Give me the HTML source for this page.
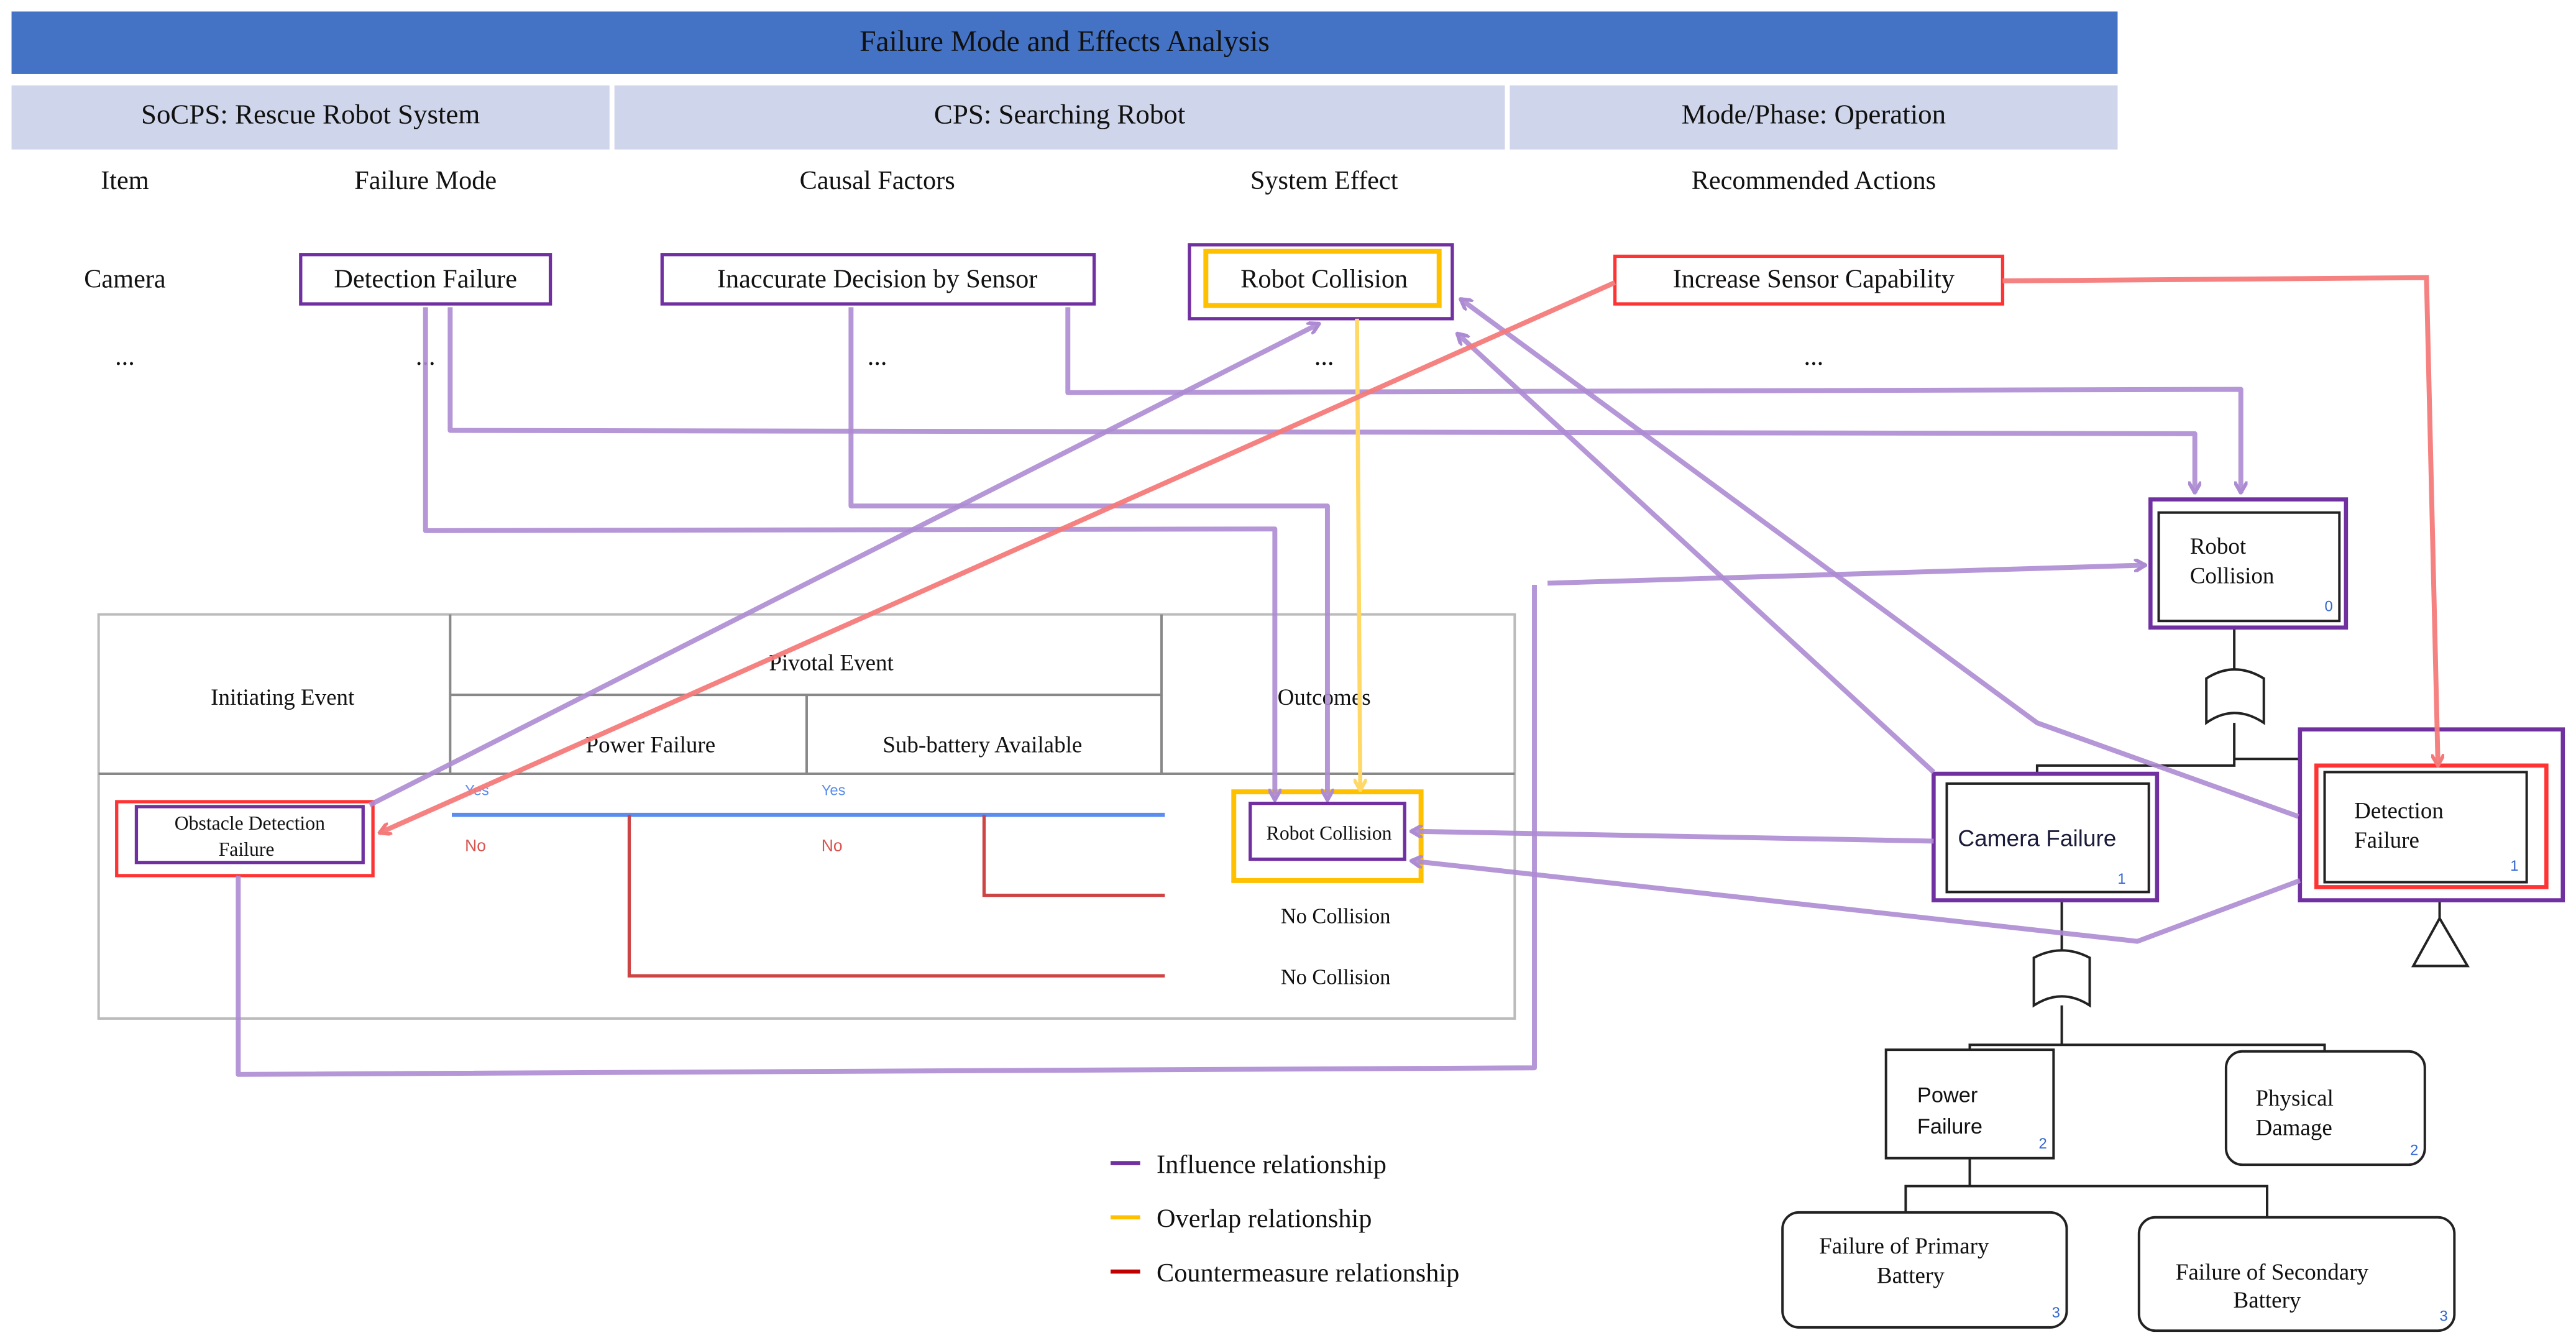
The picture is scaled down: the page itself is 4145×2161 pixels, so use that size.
<!DOCTYPE html>
<html><head><meta charset="utf-8"><style>
html,body{margin:0;padding:0;background:#fff;}
svg{display:block;}
text{font-family:"Liberation Serif",serif;fill:#111;}
.s{font-family:"Liberation Sans",sans-serif;}
</style></head><body>
<svg width="4145" height="2161" viewBox="0 0 1568 817.5" xmlns="http://www.w3.org/2000/svg">
<defs>
<marker id="ap" markerWidth="8" markerHeight="8" refX="7" refY="4" orient="auto" markerUnits="userSpaceOnUse" viewBox="0 0 8 8"><path d="M0,0 L7,4 L0,8" fill="none" stroke="#ad8bd3" stroke-width="2.2"/></marker>
<marker id="ar" markerWidth="8" markerHeight="8" refX="7" refY="4" orient="auto" markerUnits="userSpaceOnUse" viewBox="0 0 8 8"><path d="M0,0 L7,4 L0,8" fill="none" stroke="#f47a7a" stroke-width="2.2"/></marker>
<marker id="ay" markerWidth="8" markerHeight="8" refX="7" refY="4" orient="auto" markerUnits="userSpaceOnUse" viewBox="0 0 8 8"><path d="M0,0 L7,4 L0,8" fill="none" stroke="#ffd866" stroke-width="2.2"/></marker>
</defs>
<rect x="0" y="0" width="1568" height="817.5" fill="#fff"/>
<!-- header -->
<rect x="7" y="7" width="1282" height="38" fill="#4472c4"/>
<text x="648" y="31" font-size="18" text-anchor="middle">Failure Mode and Effects Analysis</text>
<rect x="7" y="52" width="364" height="39" fill="#cfd5ea"/>
<rect x="374" y="52" width="542" height="39" fill="#cfd5ea"/>
<rect x="919" y="52" width="370" height="39" fill="#cfd5ea"/>
<text x="189" y="75" font-size="17" text-anchor="middle">SoCPS: Rescue Robot System</text>
<text x="645" y="75" font-size="17" text-anchor="middle">CPS: Searching Robot</text>
<text x="1104" y="75" font-size="17" text-anchor="middle">Mode/Phase: Operation</text>
<g font-size="16" text-anchor="middle">
<text x="76" y="115">Item</text><text x="259" y="115">Failure Mode</text><text x="534" y="115">Causal Factors</text><text x="806" y="115">System Effect</text><text x="1104" y="115">Recommended Actions</text>
<text x="76" y="175">Camera</text>
<text x="76" y="222">...</text><text x="259" y="222">...</text><text x="534" y="222">...</text><text x="806" y="222">...</text><text x="1104" y="222">...</text>
</g>
<!-- FMEA boxes -->
<rect x="183" y="155" width="152" height="30" fill="#fff" stroke="#7030a0" stroke-width="2"/>
<text x="259" y="175" font-size="16" text-anchor="middle">Detection Failure</text>
<rect x="403" y="155" width="263" height="30" fill="#fff" stroke="#7030a0" stroke-width="2"/>
<text x="534" y="175" font-size="16" text-anchor="middle">Inaccurate Decision by Sensor</text>
<rect x="724" y="149" width="160" height="45" fill="#fff" stroke="#7030a0" stroke-width="2"/>
<rect x="734" y="153" width="142" height="33" fill="#fff" stroke="#ffc000" stroke-width="3"/>
<text x="806" y="175" font-size="16" text-anchor="middle">Robot Collision</text>
<rect x="983" y="156" width="236" height="29" fill="#fff" stroke="#f33" stroke-width="2"/>
<text x="1104" y="175" font-size="16" text-anchor="middle">Increase Sensor Capability</text>

<!-- event tree table -->
<rect x="60" y="374" width="862" height="246" fill="#fff" stroke="#bbb" stroke-width="1.5"/>
<line x1="60" y1="471" x2="922" y2="471" stroke="#888" stroke-width="1.5"/>
<line x1="274" y1="374" x2="274" y2="471" stroke="#888" stroke-width="1.5"/>
<line x1="707" y1="374" x2="707" y2="471" stroke="#888" stroke-width="1.5"/>
<line x1="274" y1="423" x2="707" y2="423" stroke="#888" stroke-width="1.5"/>
<line x1="491" y1="423" x2="491" y2="471" stroke="#888" stroke-width="1.5"/>
<g font-size="14" text-anchor="middle">
<text x="172" y="429">Initiating Event</text><text x="506" y="408">Pivotal Event</text>
<text x="396" y="458">Power Failure</text><text x="598" y="458">Sub-battery Available</text>
<text x="806" y="429">Outcomes</text>
<text x="813" y="562" font-size="13">No Collision</text><text x="813" y="599" font-size="13">No Collision</text>
</g>
<line x1="275" y1="496" x2="709" y2="496" stroke="#5b8dee" stroke-width="2.5"/>
<text x="283" y="484" font-size="9" class="s" style="fill:#5b8dee">Yes</text>
<text x="500" y="484" font-size="9" class="s" style="fill:#5b8dee">Yes</text>
<text x="283" y="518" font-size="10" class="s" style="fill:#d9534f">No</text>
<text x="500" y="518" font-size="10" class="s" style="fill:#d9534f">No</text>
<polyline points="383,496 383,594 709,594" fill="none" stroke="#cc4444" stroke-width="2"/>
<polyline points="599,496 599,545 709,545" fill="none" stroke="#cc4444" stroke-width="2"/>
<rect x="71" y="488" width="156" height="45" fill="#fff" stroke="#f33" stroke-width="2"/>
<rect x="83" y="491" width="138" height="34" fill="#fff" stroke="#7030a0" stroke-width="2"/>
<text x="152" y="505" font-size="12" text-anchor="middle">Obstacle Detection</text>
<text x="150" y="521" font-size="12" text-anchor="middle">Failure</text>
<rect x="751" y="482" width="114" height="54" fill="#fff" stroke="#ffc000" stroke-width="3"/>
<rect x="761" y="489" width="94" height="34" fill="#fff" stroke="#7030a0" stroke-width="2"/>
<text x="809" y="511" font-size="12" text-anchor="middle">Robot Collision</text>

<!-- legend -->
<line x1="676" y1="708" x2="694" y2="708" stroke="#7030a0" stroke-width="2.5"/>
<line x1="676" y1="741" x2="694" y2="741" stroke="#ffc000" stroke-width="2.5"/>
<line x1="676" y1="774" x2="694" y2="774" stroke="#c00000" stroke-width="2.5"/>
<text x="704" y="714" font-size="16">Influence relationship</text>
<text x="704" y="747" font-size="16">Overlap relationship</text>
<text x="704" y="780" font-size="16">Countermeasure relationship</text>

<!-- fault tree -->
<g stroke="#222" stroke-width="1.5" fill="none">
<line x1="1360" y1="378" x2="1360" y2="408"/>
<path d="M1343,440 L1343,413 Q1360,402 1378,413 L1378,440 Q1360,428 1343,440 Z" fill="#fff"/>
<polyline points="1360,440 1360,466 1240,466 1240,477"/>
<polyline points="1360,462 1485,462 1485,470"/>
<line x1="1255" y1="543" x2="1255" y2="582"/>
<path d="M1238,612 L1238,583 Q1255,574 1272,583 L1272,612 Q1255,601 1238,612 Z" fill="#fff"/>
<polyline points="1255,612 1255,636"/>
<polyline points="1199,639 1199,636 1415,636 1415,641"/>
<polyline points="1199,705 1199,722 1160,722 1160,738"/>
<polyline points="1199,722 1380,722 1380,741"/>
<line x1="1485" y1="537" x2="1485" y2="559"/>
<path d="M1469,588 L1485,559 L1502,588 Z" fill="#fff"/>
</g>
<rect x="1309" y="304" width="119" height="78" fill="#fff" stroke="#7030a0" stroke-width="2.5"/>
<rect x="1314" y="312" width="110" height="66" fill="#fff" stroke="#222" stroke-width="1.5"/>
<text x="1333" y="337" font-size="14">Robot</text><text x="1333" y="355" font-size="14">Collision</text>
<text x="1415" y="372" font-size="9" class="s" style="fill:#36c">0</text>
<rect x="1177" y="471" width="136" height="77" fill="#fff" stroke="#7030a0" stroke-width="2.5"/>
<rect x="1185" y="477" width="123" height="66" fill="#fff" stroke="#222" stroke-width="1.5"/>
<text x="1240" y="515" font-size="14" class="s" text-anchor="middle" style="fill:#1a1a3a">Camera Failure</text>
<text x="1289" y="538" font-size="9" class="s" style="fill:#36c">1</text>
<rect x="1400" y="444" width="160" height="104" fill="#fff" stroke="#7030a0" stroke-width="2.5"/>
<rect x="1410" y="466" width="140" height="74" fill="#fff" stroke="#f33" stroke-width="2.5"/>
<rect x="1415" y="470" width="123" height="67" fill="#fff" stroke="#222" stroke-width="1.5"/>
<text x="1433" y="498" font-size="14">Detection</text><text x="1433" y="516" font-size="14">Failure</text>
<text x="1528" y="530" font-size="9" class="s" style="fill:#36c">1</text>
<rect x="1148" y="639" width="102" height="66" fill="#fff" stroke="#222" stroke-width="1.5"/>
<text x="1167" y="671" font-size="13" class="s">Power</text><text x="1167" y="690" font-size="13" class="s">Failure</text>
<text x="1241" y="699" font-size="9" class="s" style="fill:#36c">2</text>
<rect x="1355" y="640" width="121" height="69" rx="10" fill="#fff" stroke="#222" stroke-width="1.5"/>
<text x="1373" y="673" font-size="14">Physical</text><text x="1373" y="691" font-size="14">Damage</text>
<text x="1467" y="703" font-size="9" class="s" style="fill:#36c">2</text>
<rect x="1085" y="738" width="173" height="70" rx="10" fill="#fff" stroke="#222" stroke-width="1.5"/>
<text x="1159" y="763" font-size="14" text-anchor="middle">Failure of Primary</text><text x="1163" y="781" font-size="14" text-anchor="middle">Battery</text>
<text x="1249" y="802" font-size="9" class="s" style="fill:#36c">3</text>
<rect x="1302" y="741" width="192" height="69" rx="10" fill="#fff" stroke="#222" stroke-width="1.5"/>
<text x="1383" y="779" font-size="14" text-anchor="middle">Failure of Secondary</text><text x="1380" y="796" font-size="14" text-anchor="middle">Battery</text>
<text x="1485" y="804" font-size="9" class="s" style="fill:#36c">3</text>

<!-- connectors -->
<g fill="none" stroke="#ad8bd3" stroke-width="3" stroke-opacity="0.9" stroke-linejoin="round">
<polyline points="274,187 274,262 1336,264 1336,300" marker-end="url(#ap)"/>
<polyline points="650,187 650,239 1364,237 1364,300" marker-end="url(#ap)"/>
<polyline points="259,187 259,323 776,322 776,487" marker-end="url(#ap)"/>
<polyline points="518,187 518,308 808,308 808,487" marker-end="url(#ap)"/>
<line x1="225" y1="490" x2="803" y2="197" marker-end="url(#ap)"/>
<polyline points="145,533 145,654 934,650 934,356"/>
<line x1="942" y1="355" x2="1306" y2="344" marker-end="url(#ap)"/>
<line x1="1177" y1="470" x2="887" y2="203" marker-end="url(#ap)"/>
<polyline points="1399,497 1240,440 889,182" marker-end="url(#ap)"/>
<line x1="1177" y1="512" x2="859" y2="506" marker-end="url(#ap)"/>
<polyline points="1400,536 1301,573 859,524" marker-end="url(#ap)"/>
</g>
<line x1="826" y1="194" x2="828" y2="481" stroke="#ffd866" stroke-width="2.5" marker-end="url(#ay)"/>
<g fill="none" stroke="#f47a7a" stroke-width="3" stroke-opacity="0.95">
<line x1="983" y1="172" x2="231" y2="507" marker-end="url(#ar)"/>
<polyline points="1219,171 1477,169 1484,466" marker-end="url(#ar)"/>
</g>
</svg>
</body></html>
